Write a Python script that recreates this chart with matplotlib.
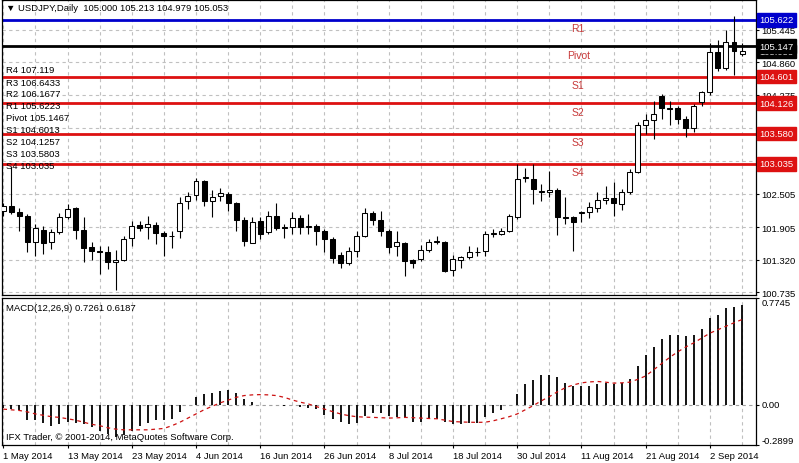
"""USDJPY daily candles with pivot levels and a MACD pane, MetaTrader style."""

import matplotlib
matplotlib.use("Agg")
import matplotlib.pyplot as plt
import matplotlib.transforms as mtransforms
import numpy as np

plt.rcParams["font.family"] = ["Liberation Sans", "DejaVu Sans"]

# daily OHLC, 1 May 2014 .. 8 Sep 2014 (one value per trading day)
opens = [102.198, 102.287, 102.180, 102.108, 101.631, 101.852, 101.631, 101.810, 102.079, 102.241,
         101.852, 101.552, 101.480, 101.462, 101.283, 101.314, 101.703, 101.947, 101.899, 101.947,
         101.798, 101.749, 101.839, 102.366, 102.484, 102.725, 102.377, 102.467, 102.497, 102.330,
         102.031, 101.624, 102.018, 101.809, 102.108, 101.905, 101.905, 102.061, 101.899, 101.929,
         101.839, 101.690, 101.403, 101.260, 101.480, 101.738, 102.156, 102.031, 101.828, 101.563,
         101.613, 101.314, 101.332, 101.493, 101.631, 101.642, 101.138, 101.320, 101.362, 101.452,
         101.480, 101.780, 101.780, 101.839, 102.079, 102.777, 102.766, 102.538, 102.527, 102.574,
         102.079, 102.079, 102.156, 102.180, 102.241, 102.395, 102.420, 102.318, 102.538, 102.896,
         103.739, 103.817, 104.250, 104.041, 104.035, 103.842, 103.675, 104.151, 104.320, 105.049,
         104.751, 105.228, 105.000]
highs = [102.330, 102.981, 102.241, 102.138, 101.959, 101.918, 101.869, 102.151, 102.318, 102.269,
         102.090, 101.631, 101.570, 101.570, 101.493, 101.749, 102.018, 102.018, 102.108, 101.990,
         101.828, 101.828, 102.449, 102.527, 102.784, 102.748, 102.569, 102.599, 102.527, 102.348,
         102.090, 102.090, 102.090, 102.198, 102.330, 101.959, 102.169, 102.126, 102.138, 101.959,
         101.869, 101.720, 101.450, 101.541, 101.828, 102.241, 102.187, 102.187, 101.869, 101.828,
         101.631, 101.332, 101.588, 101.690, 101.738, 101.660, 101.403, 101.380, 101.559, 101.541,
         101.839, 101.869, 101.881, 102.138, 103.035, 102.958, 103.035, 102.676, 102.915, 102.599,
         102.437, 102.108, 102.198, 102.348, 102.527, 102.635, 102.706, 102.587, 102.945, 103.787,
         103.937, 104.169, 104.291, 104.160, 104.082, 103.890, 104.113, 104.349, 105.204, 105.264,
         105.443, 105.683, 105.213]
lows = [102.108, 102.138, 101.839, 101.452, 101.391, 101.421, 101.511, 101.780, 102.049, 101.690,
        101.272, 101.314, 101.063, 101.152, 100.781, 101.290, 101.570, 101.839, 101.690, 101.601,
        101.391, 101.529, 101.708, 102.228, 102.389, 102.287, 102.079, 102.377, 102.187, 101.839,
        101.570, 101.613, 101.690, 101.782, 101.852, 101.708, 101.782, 101.788, 101.780, 101.589,
        101.452, 101.260, 101.165, 101.230, 101.373, 101.720, 101.947, 101.749, 101.434, 101.391,
        101.032, 101.165, 101.290, 101.452, 101.601, 101.092, 101.032, 101.165, 101.332, 101.391,
        101.391, 101.720, 101.761, 101.809, 102.049, 102.712, 102.318, 102.377, 102.437, 101.761,
        101.958, 101.470, 101.990, 102.061, 102.180, 102.318, 102.108, 102.215, 102.497, 102.866,
        103.580, 103.482, 103.848, 103.739, 103.752, 103.513, 103.614, 104.071, 104.274, 104.708,
        104.726, 104.630, 104.979]
closes = [102.287, 102.169, 102.108, 101.631, 101.882, 101.618, 101.821, 102.090, 102.228, 101.852,
          101.529, 101.480, 101.462, 101.283, 101.319, 101.690, 101.929, 101.887, 101.959, 101.798,
          101.749, 101.738, 102.330, 102.467, 102.725, 102.366, 102.449, 102.509, 102.330, 102.031,
          101.660, 102.000, 101.779, 102.108, 101.882, 101.893, 102.067, 101.899, 101.929, 101.828,
          101.690, 101.349, 101.260, 101.480, 101.749, 102.156, 102.037, 101.828, 101.541, 101.631,
          101.290, 101.260, 101.493, 101.642, 101.660, 101.121, 101.332, 101.362, 101.452, 101.462,
          101.780, 101.798, 101.839, 102.108, 102.766, 102.802, 102.587, 102.556, 102.574, 102.079,
          102.061, 102.000, 102.180, 102.264, 102.395, 102.420, 102.336, 102.538, 102.896, 103.739,
          103.829, 103.937, 104.035, 104.029, 103.842, 103.675, 104.071, 104.320, 105.049, 104.751,
          105.228, 105.067, 105.053]

# MACD(12,26,9): main histogram and signal line
macd_main = [-0.02, -0.03, -0.04, -0.11, -0.11, -0.13, -0.15, -0.14, -0.12, -0.13,
             -0.14, -0.16, -0.19, -0.21, -0.23, -0.22, -0.19, -0.15, -0.13, -0.11,
             -0.11, -0.10, -0.05, 0.00, 0.06, 0.08, 0.09, 0.10, 0.11, 0.09,
             0.04, 0.02, 0.00, 0.00, 0.00, -0.01, 0.00, -0.015, -0.02, -0.03,
             -0.07, -0.10, -0.125, -0.14, -0.13, -0.08, -0.055, -0.06, -0.08, -0.085,
             -0.095, -0.12, -0.12, -0.10, -0.10, -0.12, -0.14, -0.14, -0.13, -0.13,
             -0.09, -0.06, -0.04, 0.00, 0.08, 0.15, 0.18, 0.22, 0.22, 0.20,
             0.16, 0.14, 0.14, 0.14, 0.15, 0.16, 0.15, 0.16, 0.19, 0.28,
             0.36, 0.42, 0.48, 0.51, 0.51, 0.50, 0.51, 0.55, 0.63, 0.65,
             0.70, 0.71, 0.7261]
macd_signal = [-0.03, -0.035, -0.04, -0.05, -0.065, -0.075, -0.085, -0.09, -0.10, -0.11,
               -0.125, -0.14, -0.15, -0.165, -0.175, -0.18, -0.18, -0.18, -0.18, -0.175,
               -0.17, -0.15, -0.125, -0.095, -0.065, -0.035, -0.01, 0.015, 0.035, 0.055,
               0.068, 0.073, 0.075, 0.073, 0.068, 0.055, 0.036, 0.02, 0.007, -0.012,
               -0.03, -0.048, -0.065, -0.077, -0.085, -0.088, -0.09, -0.092, -0.095, -0.093,
               -0.09, -0.092, -0.095, -0.098, -0.10, -0.11, -0.12, -0.123, -0.125, -0.126,
               -0.125, -0.115, -0.10, -0.085, -0.065, -0.035, -0.005, 0.03, 0.06, 0.095,
               0.125, 0.145, 0.16, 0.167, 0.17, 0.165, 0.158, 0.16, 0.165, 0.185,
               0.21, 0.255, 0.30, 0.345, 0.385, 0.42, 0.45, 0.485, 0.52, 0.545,
               0.57, 0.595, 0.6187]

date_labels = ["1 May 2014", "13 May 2014", "23 May 2014", "4 Jun 2014", "16 Jun 2014",
               "26 Jun 2014", "8 Jul 2014", "18 Jul 2014", "30 Jul 2014", "11 Aug 2014",
               "21 Aug 2014", "2 Sep 2014"]
price_ticks = [105.445, 104.860, 104.275, 103.675, 103.090, 102.505, 101.905, 101.320, 100.735]

pivot_names = ["R4", "R3", "R2", "R1", "Pivot", "S1", "S2", "S3", "S4"]
pivot_text = ["107.119", "106.6433", "106.1677", "105.6223", "105.1467",
              "104.6013", "104.1257", "103.5803", "103.035"]
pivot_levels = [float(t) for t in pivot_text]
pivot_colors = ["#dd1111", "#dd1111", "#dd1111", "#0000cc", "black",
                "#dd1111", "#dd1111", "#dd1111", "#dd1111"]

last_bid = 105.053
header = "\u25bc USDJPY,Daily  105.000 105.213 104.979 105.053"
macd_header = "MACD(12,26,9) 0.7261 0.6187"
copyright_text = "IFX Trader, \u00a9 2001-2014, MetaQuotes Software Corp."

GRID = "#c0c0c0"
DASH = (0, (3, 3))
FS = 6.8

W, H = 799, 464
fig = plt.figure(figsize=(W / 100, H / 100), dpi=100)
ax = fig.add_axes([2 / W, 168 / H, 754 / W, 295 / H])
ax2 = fig.add_axes([2 / W, 18 / H, 754 / W, 147 / H])

n = len(closes)
x = np.arange(n)
o = np.array(opens)
c = np.array(closes)

# ---- price pane
ax.set_xlim(-0.16, 93.74)
ax.set_ylim(100.686, 105.975)

ax.vlines(x, lows, highs, color="black", linewidth=0.8, zorder=3)
up = c >= o
body_low = np.minimum(o, c)
body_h = np.maximum(np.abs(c - o), 0.004)
ax.bar(x, body_h, bottom=body_low, width=0.62,
       color=np.where(up, "white", "black"), edgecolor="black", linewidth=0.75, zorder=4)

for lvl, col in zip(pivot_levels, pivot_colors):
    ax.axhline(lvl, color=col, linewidth=2, zorder=2)
for name, lvl in zip(pivot_names, pivot_levels):
    ax.annotate(name, (71.6, lvl), xytext=(0, -2.5), textcoords="offset points",
                ha="center", va="top", fontsize=7.5, color="#c83a3a",
                annotation_clip=True, zorder=5)

for i, (name, txt) in enumerate(zip(pivot_names, pivot_text)):
    ax.text(0.0053, 1 - (70 + 12 * i) / 295, f"{name} {txt}", transform=ax.transAxes,
            ha="left", va="center", fontsize=FS, color="black", zorder=6)

ax.text(0.0053, 1 - 8 / 295, header, transform=ax.transAxes, ha="left", va="center",
        fontsize=FS, color="black")

ax.yaxis.tick_right()
ax.set_yticks(price_ticks)
ax.set_yticklabels([f"{t:.3f}" for t in price_ticks])
ax.tick_params(axis="y", direction="out", length=2.5, width=0.8, pad=1.5, labelsize=FS)
ax.set_xticks(np.arange(0, n, 4))
ax.tick_params(axis="x", length=0, labelbottom=False)
ax.grid(True, color=GRID, linestyle=DASH, linewidth=0.8)
ax.set_axisbelow(True)

trans = mtransforms.blended_transform_factory(ax.transAxes, ax.transData)
box_levels = [(last_bid, "black")] + [
    (lvl, col) for lvl, col in zip(pivot_levels, pivot_colors) if lvl < 105.975]
for lvl, col in box_levels:
    ax.text(1.0045, lvl, f"{lvl:.3f}", transform=trans, ha="left", va="center",
            fontsize=FS, color="white", clip_on=False, zorder=10,
            bbox=dict(boxstyle="square,pad=0.25", fc=col, ec=col))

# ---- MACD pane
ax2.set_xlim(-0.16, 93.74)
ax2.set_ylim(-0.2899, 0.7745)
ax2.axhline(0, color="#a0a0a0", linestyle=DASH, linewidth=0.8, zorder=1)
ax2.vlines(x, 0, macd_main, color="black", linewidth=1.3, zorder=3)
ax2.plot(x, macd_signal, color="#cc1111", linestyle=(0, (3, 3)), linewidth=0.9, zorder=4)

ax2.set_xticks(np.arange(0, n, 8))
ax2.set_xticklabels(date_labels, ha="left")
ax2.set_xticks(np.arange(4, n, 8), minor=True)
ax2.tick_params(axis="x", which="major", direction="out", length=2.5, width=0.8,
                pad=1.5, labelsize=FS)
ax2.tick_params(axis="x", which="minor", length=0)
ax2.grid(True, axis="x", which="both", color=GRID, linestyle=DASH, linewidth=0.8)
ax2.set_axisbelow(True)

ax2.yaxis.tick_right()
ax2.set_yticks([-0.2899, 0, 0.7745])
ax2.set_yticklabels([])
ax2.tick_params(axis="y", direction="out", length=2.5, width=0.8)
trans2 = mtransforms.blended_transform_factory(ax2.transAxes, ax2.transData)
for val, txt, va in [(0.7745, "0.7745", "top"), (0.0, "0.00", "center"),
                     (-0.2899, "-0.2899", "bottom")]:
    ax2.text(1.008, val, txt, transform=trans2, ha="left", va=va, fontsize=FS,
             clip_on=False)

ax2.text(0.0053, 0.965, macd_header, transform=ax2.transAxes, ha="left", va="top", fontsize=FS)
ax2.text(0.0053, 0.03, copyright_text, transform=ax2.transAxes, ha="left", va="bottom",
         fontsize=FS)

for a in (ax, ax2):
    for sp in a.spines.values():
        sp.set_linewidth(0.9)
        sp.set_color("black")

fig.savefig("out.png", dpi=100, facecolor="white")
